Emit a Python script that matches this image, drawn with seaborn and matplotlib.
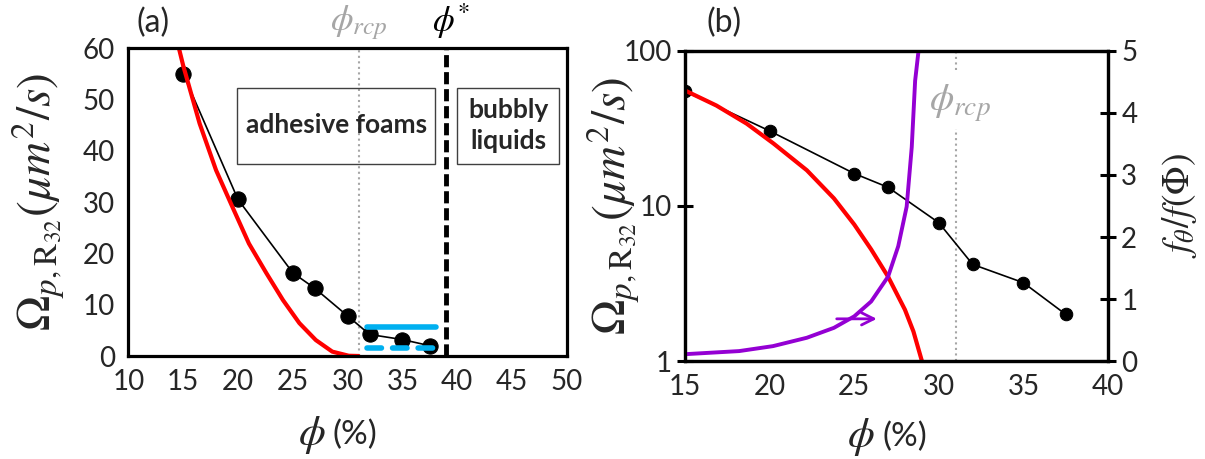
import matplotlib
matplotlib.use("Agg")
import matplotlib.pyplot as plt
import matplotlib.transforms as mtransforms
import numpy as np
import pandas as pd
import seaborn as sns
from matplotlib.patches import Rectangle

# measured data (same in both panels)
phi = [15, 20, 25, 27, 30, 32, 35, 37.5]
omega = [55, 30.5, 16.2, 13.2, 7.8, 4.2, 3.2, 2.0]

# red model curve, panel (a)
red_phi_a = [14.55, 15.0, 16.5, 18.0, 19.5, 21.0, 22.6, 24.1, 25.6, 27.1, 28.6, 30.1, 31.0]
red_omega_a = [60.5, 56.6, 45.3, 36.2, 29.0, 21.9, 16.1, 10.9, 6.4, 3.1, 0.85, 0.05, 0.0]

# red model curve, panel (b)
red_phi_b = [15, 16.85, 18.64, 20.23, 22.2, 23.8, 25.0, 26.0, 27.0, 28.0, 28.5, 29.0]
red_omega_b = [55.6, 44.5, 34, 25.3, 17, 11.2, 7.6, 5.25, 3.5, 2.14, 1.55, 1.0]

# purple ratio curve, panel (b), right axis
purple_phi = [15, 18.2, 20.2, 22.2, 23.8, 25.0, 26.0, 27.0, 27.6, 28.1, 28.4, 28.6, 28.8]
purple_ratio = [0.11, 0.16, 0.24, 0.375, 0.535, 0.72, 0.96, 1.36, 1.85, 2.49, 3.45, 4.52, 5.0]

# blue band in panel (a)
blue_phi = [31.8, 38.1]
blue_hi = 5.7
blue_lo = 1.5

phi_rcp = 31
phi_star = 39

RED = '#FF0000'
PURPLE = '#9400D3'
BLUE = '#00B0F0'
GREY = '#A6A6A6'

sns.set_style('white')
plt.rcParams['font.family'] = ['Lato', 'DejaVu Sans']
plt.rcParams['mathtext.fontset'] = 'stix'

fig = plt.figure(figsize=(12.05, 4.59), dpi=100)
ax_a = fig.add_axes([0.1065, 0.2244, 0.364, 0.671])
ax_b = fig.add_axes([0.5685, 0.2135, 0.351, 0.6754])


def style_axes(ax):
    for s in ax.spines.values():
        s.set_linewidth(2.3)
        s.set_color('black')
    ax.tick_params(direction='inout', length=11, width=2.2, labelsize=20, color='black', pad=4)


def place_labels(ax, xlab_y, ylab_x):
    # x label: big italic phi followed by smaller "(%)"
    ax.set_xlabel('')
    ax.text(0.449, xlab_y, r'$\phi$', fontsize=31, ha='right', va='center', transform=ax.transAxes)
    ax.text(0.466, xlab_y, '(%)', fontsize=24, ha='left', va='center', transform=ax.transAxes)
    ax.set_ylabel(r'$\Omega_{p,\mathrm{R}_{32}}(\mu m^2/s)$', fontsize=34)
    ax.yaxis.set_label_coords(ylab_x, 0.5)
    ax.yaxis.label.set_va('center')


# ---- panel (a)
df_a = pd.DataFrame({'phi': phi, 'omega': omega})
sns.lineplot(data=df_a, x='phi', y='omega', ax=ax_a, color='black', lw=1.2,
             marker='o', markersize=11, markeredgecolor='black')
sns.lineplot(x=red_phi_a, y=red_omega_a, ax=ax_a, color=RED, lw=3, sort=False)
ax_a.plot(blue_phi, [blue_hi, blue_hi], color=BLUE, lw=4, solid_capstyle='round')
ax_a.plot(blue_phi, [blue_lo, blue_lo], color=BLUE, lw=4, dashes=(2.6, 2.0), dash_capstyle='round')
ax_a.axvline(phi_rcp, color=GREY, lw=1.5, ls=':', zorder=0)
ax_a.axvline(phi_star, color='black', lw=3.5, dashes=(2.5, 1.0))

ax_a.add_patch(Rectangle((19.94, 37.5), 18.0, 14.8, fill=False, ec='#404040', lw=1))
ax_a.text(28.95, 45, 'adhesive foams', ha='center', va='center', fontsize=19, fontweight='bold')
ax_a.add_patch(Rectangle((40.0, 37.5), 9.3, 14.8, fill=False, ec='#404040', lw=1))
ax_a.text(44.65, 45, 'bubbly\nliquids', ha='center', va='center', fontsize=19,
          fontweight='bold', linespacing=1.35)

ax_a.set_xlim(10, 50)
ax_a.set_ylim(0, 60)
ax_a.set_xticks(np.arange(10, 51, 5))
ax_a.set_yticks(np.arange(0, 61, 10))
style_axes(ax_a)
place_labels(ax_a, -0.255, -0.205)

top_a = mtransforms.blended_transform_factory(ax_a.transData, fig.transFigure)
ax_a.text(31, 0.95, r'$\phi_{rcp}$', color=GREY, fontsize=26, ha='center', va='center', transform=top_a)
ax_a.text(39.4, 0.955, r'$\phi^{*}$', color='black', fontsize=25, ha='center', va='center', transform=top_a)
ax_a.text(12.3, 0.95, '(a)', fontsize=23, ha='center', va='center', transform=top_a)

# ---- panel (b)
df_b = pd.DataFrame({'phi': phi, 'omega': omega})
sns.lineplot(data=df_b, x='phi', y='omega', ax=ax_b, color='black', lw=1.2,
             marker='o', markersize=9, markeredgecolor='black')
sns.lineplot(x=red_phi_b, y=red_omega_b, ax=ax_b, color=RED, lw=3, sort=False)
ax_b.vlines(phi_rcp, 1, 31.5, color=GREY, lw=1.5, ls=':', zorder=0)
ax_b.vlines(phi_rcp, 75, 100, color=GREY, lw=1.5, ls=':', zorder=0)
ax_b.text(31.25, 46, r'$\phi_{rcp}$', color=GREY, fontsize=28, ha='center', va='center')
ax_b.set_yscale('log')
ax_b.set_xlim(15, 40)
ax_b.set_ylim(1, 100)
ax_b.set_xticks(np.arange(15, 41, 5))
ax_b.set_yticks([1, 10, 100])
ax_b.set_yticklabels(['1', '10', '100'])
ax_b.minorticks_off()
style_axes(ax_b)
place_labels(ax_b, -0.245, -0.17)

top_b = mtransforms.blended_transform_factory(ax_b.transData, fig.transFigure)
ax_b.text(17.3, 0.95, '(b)', fontsize=23, ha='center', va='center', transform=top_b)

ax2 = ax_b.twinx()
sns.lineplot(x=purple_phi, y=purple_ratio, ax=ax2, color=PURPLE, lw=2.8, sort=False)
ax2.annotate('', xy=(26.5, 0.68), xytext=(23.8, 0.68),
             arrowprops=dict(arrowstyle='->', color=PURPLE, lw=2, mutation_scale=22))
ax2.set_ylim(0, 5)
ax2.set_yticks(range(0, 6))
style_axes(ax2)
ax2.set_ylabel(r'$f_{\theta}/f(\Phi)$', fontsize=27, rotation=90)
ax2.yaxis.set_label_coords(1.17, 0.5)
ax2.yaxis.label.set_va('center')

fig.savefig('out.png', dpi=100)
